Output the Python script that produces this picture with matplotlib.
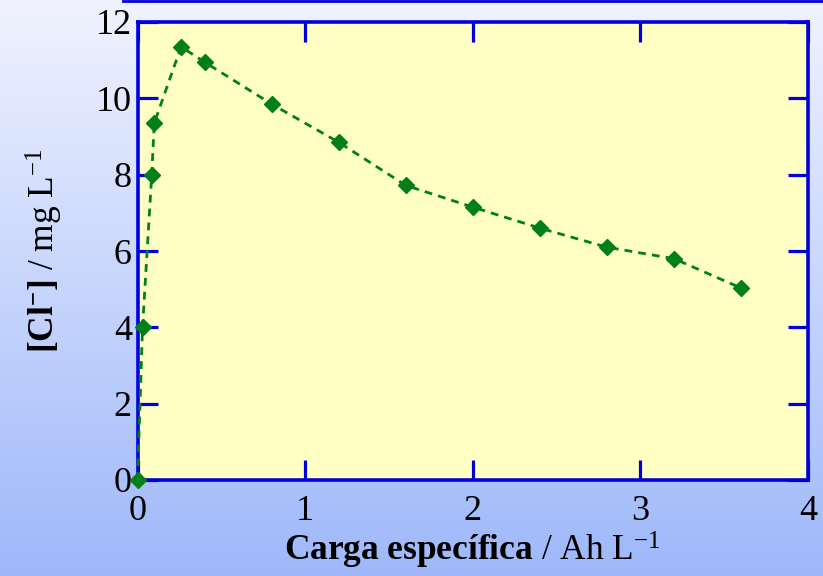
import numpy as np
import matplotlib
matplotlib.use("Agg")
import matplotlib.pyplot as plt

plt.rcParams["font.family"] = ["Liberation Serif", "DejaVu Serif"]
plt.rcParams["mathtext.fontset"] = "custom"
plt.rcParams["mathtext.rm"] = "Liberation Serif"
plt.rcParams["mathtext.bf"] = "Liberation Serif:bold"
plt.rcParams["mathtext.it"] = "Liberation Serif:italic"

# specific charge (Ah/L) and chloride concentration (mg/L)
carga = [0.0, 0.03, 0.085, 0.1, 0.26, 0.4, 0.8, 1.2, 1.6, 2.0, 2.4, 2.8, 3.2, 3.6]
cloruro = [0.0, 4.0, 8.0, 9.35, 11.35, 10.95, 9.85, 8.85, 7.72, 7.15, 6.6, 6.1, 5.8, 5.03]

xticks = [0, 1, 2, 3, 4]
yticks = [0, 2, 4, 6, 8, 10, 12]

blue = "#0000dd"
green = "#007f1a"

fig = plt.figure(figsize=(8.23, 5.76), dpi=100)

# gradient background
bg = fig.add_axes([0, 0, 1, 1], zorder=-2)
top = np.array([240, 243, 255]) / 255
bot = np.array([158, 184, 250]) / 255
t = np.linspace(0, 1, 256)[:, None]
grad = top * (1 - t) + bot * t
bg.imshow(grad[:, None, :], aspect="auto", extent=[0, 1, 0, 1])
bg.axis("off")
fig.add_artist(plt.Line2D([123 / 823, 1], [0.998, 0.998], color=blue, lw=2.0,
                          transform=fig.transFigure))

ax = fig.add_axes([137.5 / 823, 1 - 480 / 576, (808 - 137.5) / 823, (480 - 22) / 576])
ax.set_facecolor("#ffffc4")

ax.plot(carga, cloruro, color=green, ls=(0, (2.8, 2.2)), lw=2.0,
        marker="D", markersize=8.5, clip_on=False, zorder=3)

ax.set_xlim(0, 4)
ax.set_ylim(0, 12)
ax.set_xticks(xticks)
ax.set_yticks(yticks)
ax.tick_params(direction="in", length=14.5, width=2.3, color=blue,
               top=True, right=True, labelsize=26)
ax.tick_params(axis="x", pad=11)
ax.tick_params(axis="y", pad=4)

for s in ax.spines.values():
    s.set_color(blue)
    s.set_linewidth(2.6)

ax.set_xlabel(r"$\mathbf{Carga\ específica}$ / Ah L$^{-1}$", fontsize=25.5, labelpad=1)
ax.set_ylabel(r"$\mathbf{[Cl^{-}]}$ / mg L$^{-1}$", fontsize=25.5, labelpad=22)

plt.savefig("out.png", dpi=100)
